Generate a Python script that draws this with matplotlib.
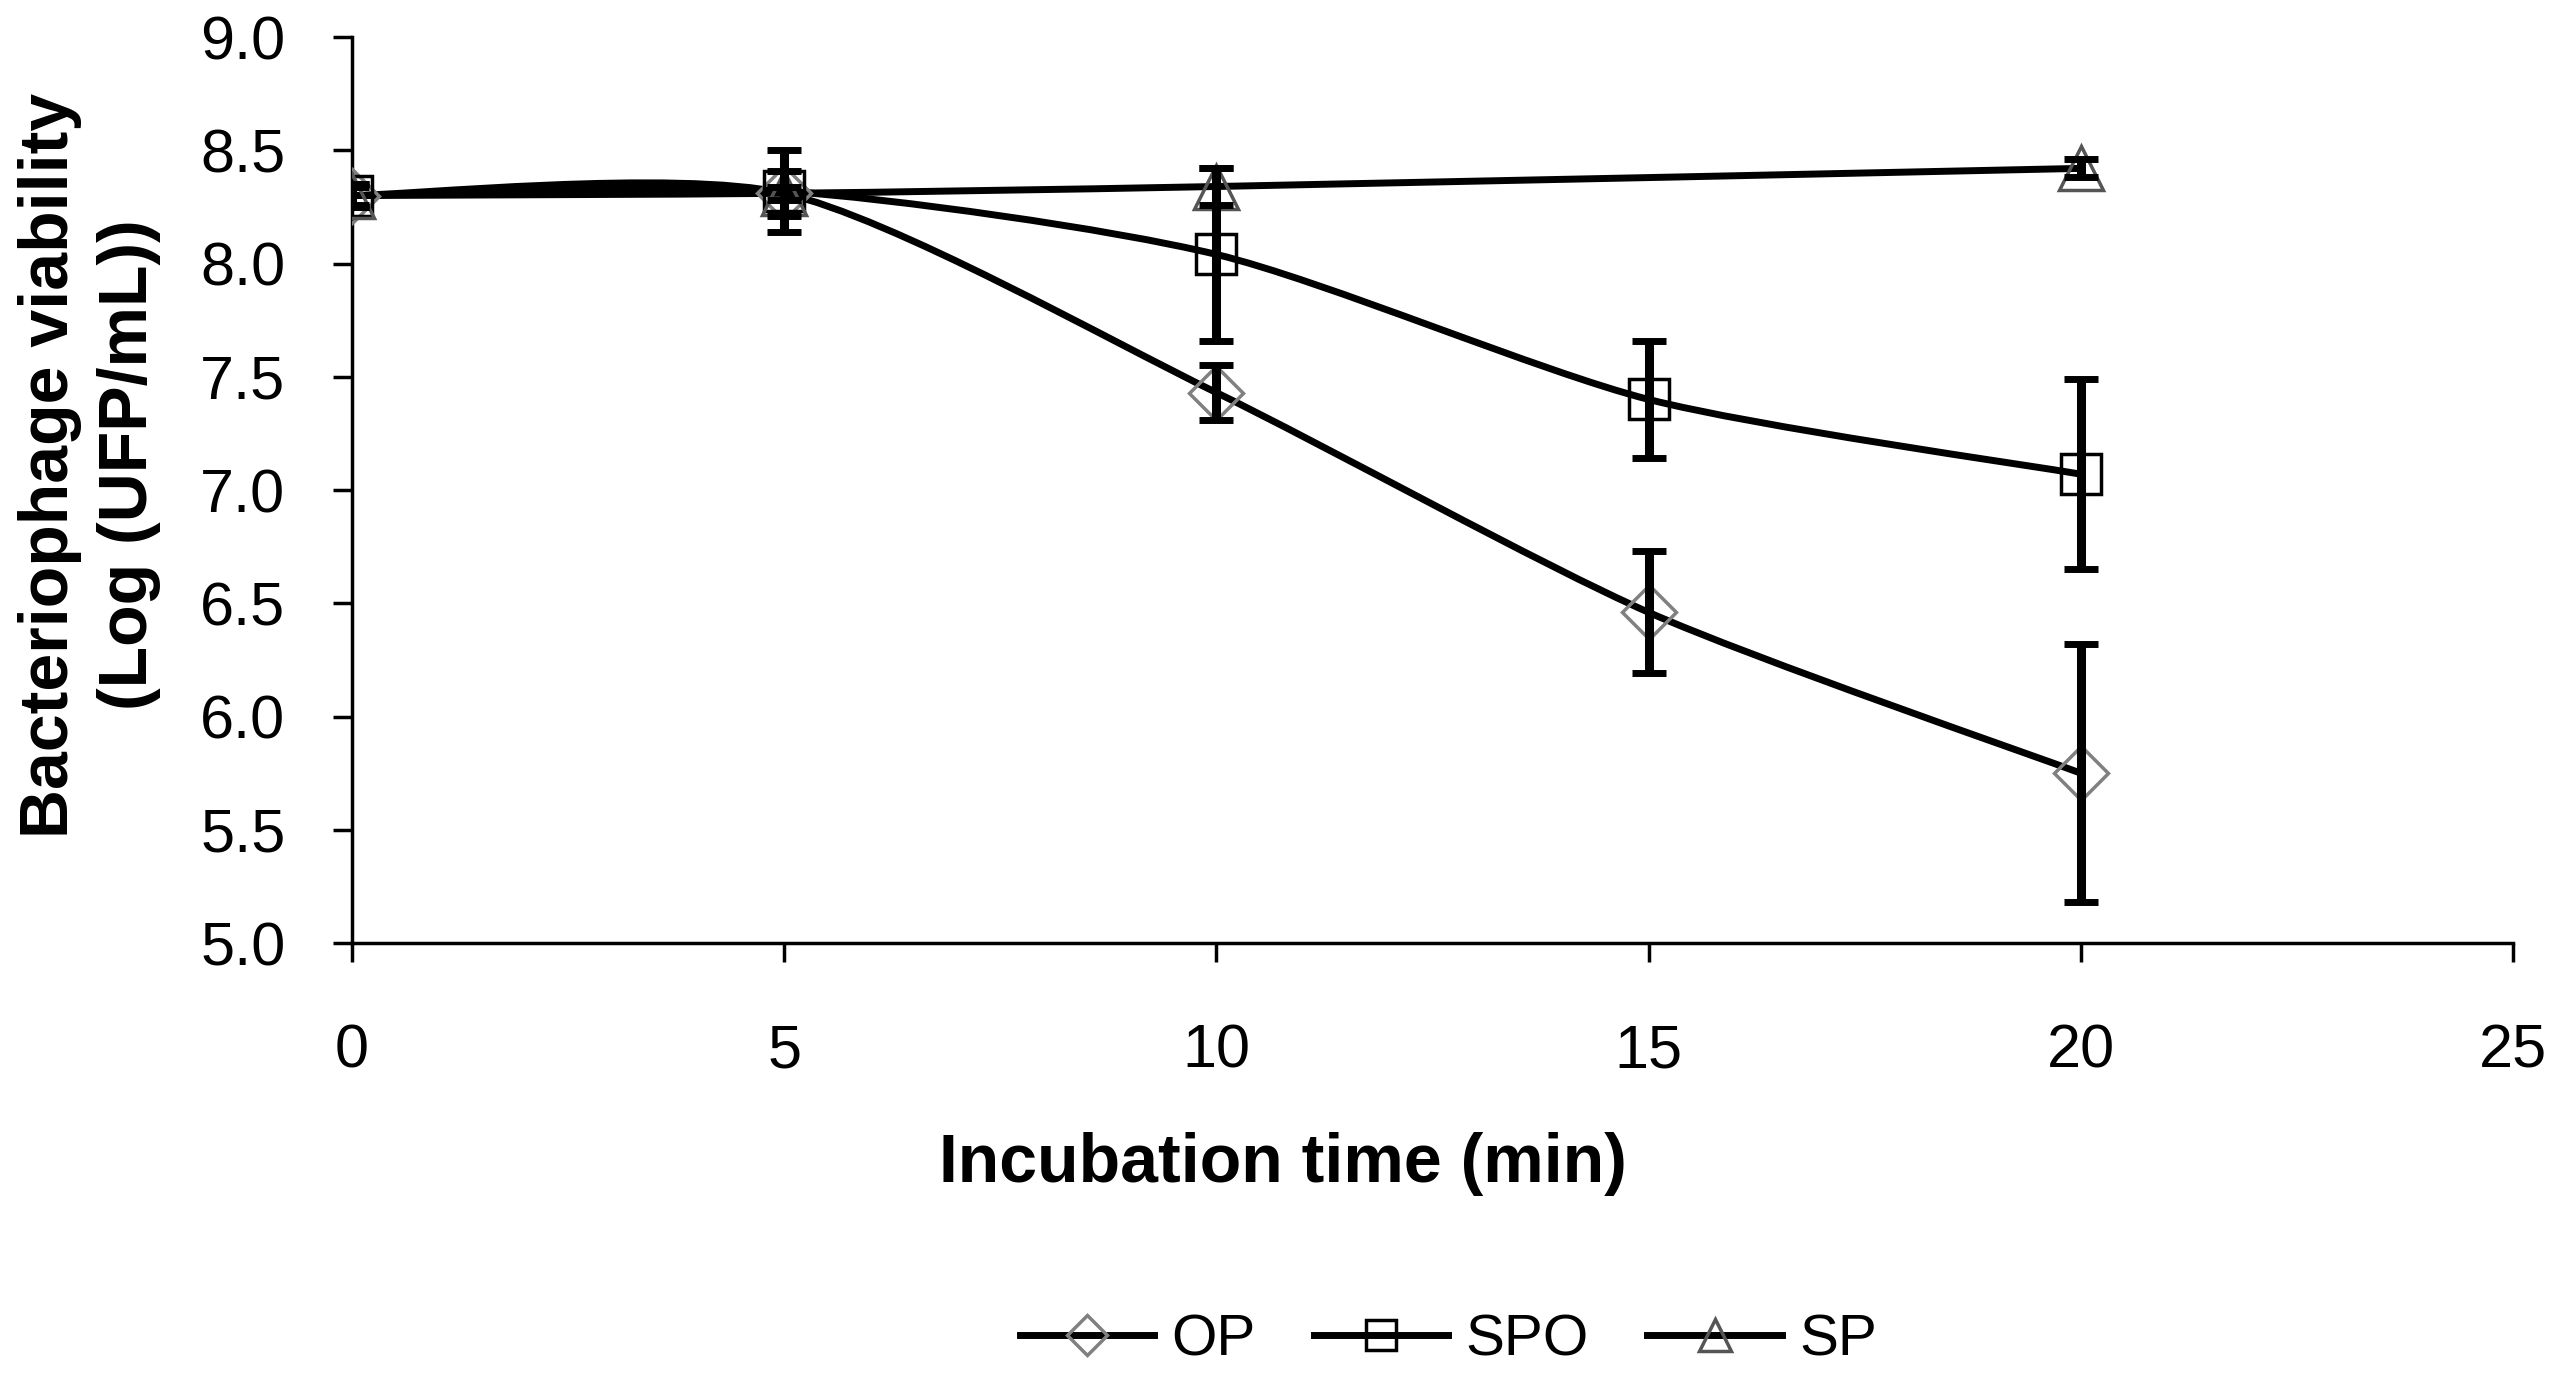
import matplotlib
matplotlib.use('Agg')
import matplotlib.pyplot as plt
import numpy as np
from matplotlib.path import Path
from matplotlib.patches import PathPatch
from matplotlib.lines import Line2D

plt.rcParams['font.family'] = ['Liberation Sans', 'DejaVu Sans']

# data
time = [0, 5, 10, 15, 20]
op = [8.30, 8.31, 7.43, 6.46, 5.75]
op_err = [0.05, 0.10, 0.12, 0.27, 0.57]
spo = [8.30, 8.32, 8.04, 7.40, 7.07]
spo_err = [0.04, 0.18, 0.38, 0.26, 0.42]
sp_time = [0, 5, 10, 20]
sp = [8.30, 8.31, 8.34, 8.42]
sp_err = [0.05, 0.03, 0.08, 0.04]

names = ['OP', 'SPO', 'SP']


def smooth_path(x, y, k=8.0):
    # excel-like smoothed line: cubic bezier through the points
    pts = np.column_stack([x, y]).astype(float)
    ext = np.vstack([pts[0], pts, pts[-1]])
    verts = [tuple(pts[0])]
    codes = [Path.MOVETO]
    for i in range(len(pts) - 1):
        p0, p1, p2, p3 = ext[i], ext[i + 1], ext[i + 2], ext[i + 3]
        c1 = p1 + (p2 - p0) / k
        c2 = p2 - (p3 - p1) / k
        verts += [tuple(c1), tuple(c2), tuple(p2)]
        codes += [Path.CURVE4] * 3
    return Path(verts, codes)


fig = plt.figure(figsize=(25.59, 13.86), dpi=100)
ax = fig.add_axes([0.1376, 0.3196, 0.8444, 0.6537])

lw = 5
styles = [
    dict(marker='D', ms=27, mec='#808080', mew=2.5),
    dict(marker='s', ms=29, mec='black', mew=2.5),
    dict(marker='^', ms=31, mec='#555555', mew=2.5),
]
series = [(time, op, op_err), (time, spo, spo_err), (sp_time, sp, sp_err)]

for (x, y, e), st in zip(series, styles):
    ax.add_patch(PathPatch(smooth_path(x, y), fill=False, lw=lw,
                           edgecolor='black', zorder=2))
    ax.plot(x, y, linestyle='none', mfc='none', zorder=3, **st)
    ax.errorbar(x, y, yerr=e, fmt='none', ecolor='black', elinewidth=6.5,
                capsize=12, capthick=5, zorder=4)

ax.set_xlim(0, 25)
ax.set_ylim(5, 9)
ax.set_xticks([0, 5, 10, 15, 20, 25])
ax.set_yticks(np.arange(5.0, 9.01, 0.5))
ax.set_yticklabels(['%.1f' % v for v in np.arange(5.0, 9.01, 0.5)])
for s in ['top', 'right']:
    ax.spines[s].set_visible(False)
for s in ['left', 'bottom']:
    ax.spines[s].set_linewidth(2.5)
ax.tick_params(axis='both', direction='out', length=14, width=2.5,
               labelsize=44, colors='black')
ax.tick_params(axis='y', pad=34)
ax.tick_params(axis='x', pad=44)

fig.text(0.5013, 0.160, 'Incubation time (min)', fontsize=49,
         fontweight='bold', ha='center', va='center')
fig.text(0.035, 0.6645, 'Bacteriophage viability\n(Log (UFP/mL))',
         fontsize=49, fontweight='bold', rotation=90, ha='center',
         va='center', multialignment='center', linespacing=1.3)

handles = [Line2D([], [], color='black', lw=lw, mfc='none', **st)
           for st in styles]
for h in handles:
    h.set_markersize(h.get_markersize() * 0.75)
fig.legend(handles, names, loc='center', bbox_to_anchor=(0.566, 0.033),
           ncol=3, frameon=False, fontsize=42, handlelength=2.3,
           handletextpad=0.3, columnspacing=1.0)

fig.savefig('out.png', dpi=100, facecolor='white')
